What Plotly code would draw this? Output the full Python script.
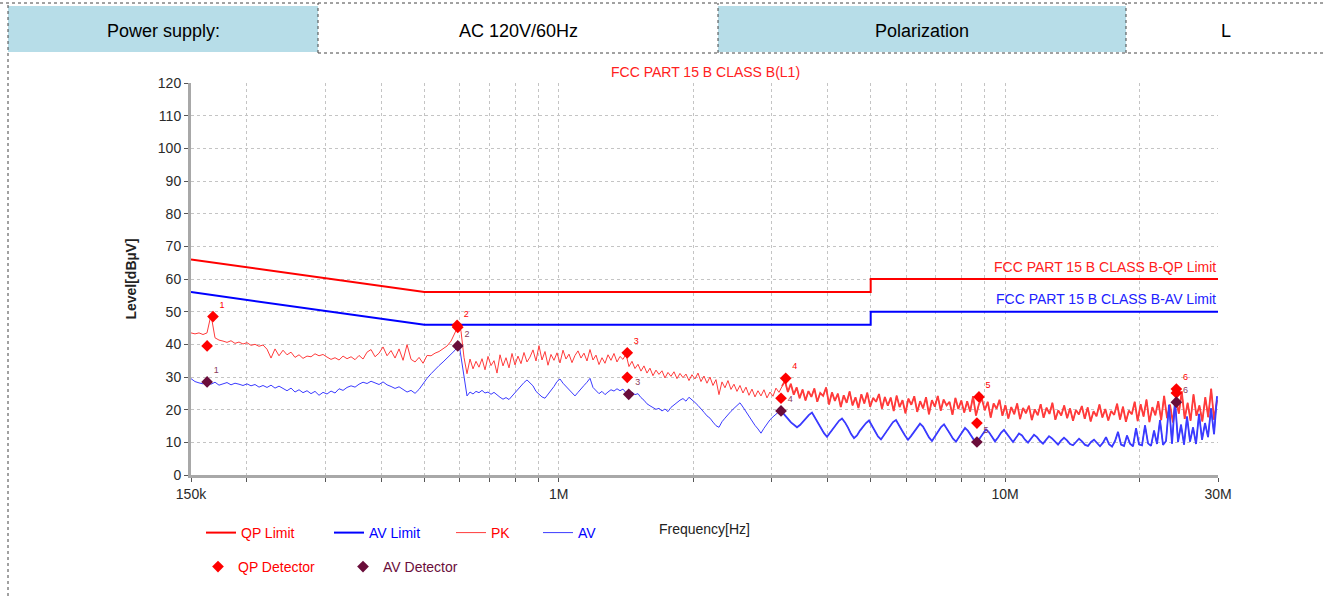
import numpy as np
import plotly.graph_objects as go

# ---------------- data ----------------
table_labels = ["Power supply:", "AC 120V/60Hz", "Polarization", "L"]
chart_title = "FCC PART 15 B CLASS B(L1)"

limit_freq_mhz = [0.15, 0.5, 5.0, 5.0, 30.0]
qp_limit_dbuv = [66, 56, 56, 60, 60]
av_limit_dbuv = [56, 46, 46, 50, 50]

# receiver sweep: three bands (start, stop in MHz), levels
band_a_mhz = [0.15, 0.598]
band_b_mhz = [0.604, 3.115]
band_c_mhz = [3.164, 29.85]

pk_band_a = [43.5, 43.2, 43.5, 43.0, 43.5, 49.0, 42.0, 41.3, 41.0, 40.6, 41.1, 40.3, 40.7, 40.1,
             40.5, 39.7, 40.0, 39.4, 39.8, 38.5, 35.8, 38.6, 36.5, 38.2, 36.8, 37.6, 36.0, 36.8,
             35.7, 36.4, 36.2, 37.1, 36.5, 36.9, 36.1, 35.4, 35.9, 35.2, 36.4, 35.6, 36.2, 35.3,
             36.6, 35.5, 37.6, 38.4, 36.2, 37.3, 39.2, 36.5, 38.1, 35.8, 38.6, 35.1, 39.9, 35.4,
             34.6, 36.0, 34.2, 36.6, 36.5, 37.3, 37.8, 38.6, 39.5, 41.0, 43.5, 46.2]
pk_band_b = [44.0, 36.0, 31.0, 35.5, 32.5, 34.8, 33.0, 35.6, 32.2, 36.3, 33.5, 35.0, 31.2, 36.8,
             33.4, 35.9, 32.8, 37.2, 33.7, 36.4, 34.1, 37.5, 34.6, 36.1, 38.3, 34.9, 39.6, 35.2,
             37.8, 33.6, 36.9, 35.1, 37.4, 34.3, 38.2, 35.5, 37.0, 34.4, 36.6, 38.0, 35.8, 37.3,
             34.9, 38.4, 35.2, 36.7, 33.8, 35.9, 34.2, 36.8, 35.1, 37.2, 34.6, 36.3, 35.4, 37.0,
             33.2, 34.8, 32.6, 33.9, 31.8, 33.4, 31.2, 32.7, 30.4, 32.1, 30.8, 31.9, 29.7, 31.4,
             30.2, 31.6, 29.5, 31.1, 29.8, 30.9, 28.9, 30.7, 29.4, 31.2, 28.6, 30.3, 28.1, 30.0,
             27.4, 29.2, 24.6, 28.5, 26.7, 28.9, 26.2, 27.8, 25.6, 27.4, 25.1, 26.9, 24.4, 26.3,
             23.9, 25.8, 24.2, 26.1, 23.6, 25.4, 24.1, 26.6, 25.3]
pk_band_c = [27.2, 28.8, 25.4, 27.9, 24.6, 26.8, 23.5, 26.2, 22.8, 25.7, 23.9, 26.5, 22.4, 25.1,
             24.2, 26.8, 21.6, 25.3, 22.7, 24.9, 20.8, 24.4, 22.1, 25.6, 21.3, 23.8, 20.5, 24.7,
             21.9, 25.2, 20.9, 23.6, 22.4, 24.8, 20.3, 23.9, 21.2, 23.7, 19.6, 24.3, 20.8, 22.9,
             18.9, 23.4, 21.5, 24.1, 19.3, 22.6, 20.4, 23.8, 18.6, 22.9, 20.9, 24.2, 19.7, 23.1,
             21.3, 22.4, 18.4, 23.6, 20.2, 22.8, 19.1, 22.6, 19.4, 24.1, 18.2, 21.7, 23.3, 19.8,
             22.4, 17.6, 21.9, 20.3, 23.0, 18.1, 21.4, 17.3, 20.8, 18.6, 21.9, 17.1, 20.5, 18.9,
             21.2, 16.8, 20.1, 18.3, 21.7, 17.5, 20.6, 18.7, 22.1, 16.9, 19.8, 18.2, 21.3, 17.4,
             20.4, 16.6, 19.9, 18.5, 21.1, 17.2, 20.7, 16.4, 19.5, 18.0, 21.6, 17.6, 20.2, 16.7,
             19.6, 18.4, 21.8, 17.0, 20.9, 16.3, 19.7, 18.6, 22.4, 16.5, 21.7, 17.9, 23.1, 16.2,
             20.8, 18.3, 22.6, 16.8, 24.2, 17.4, 21.5, 16.1, 23.4, 18.8, 25.6, 17.2, 22.1, 16.6,
             24.7, 18.1, 21.3, 16.4, 23.8, 17.7, 26.4, 16.9, 22.9]

av_band_a = [29.5, 28.6, 28.2, 27.9, 28.5, 27.8, 28.4, 27.5, 27.9, 28.3, 27.6, 28.1, 27.8, 27.4,
             27.9, 27.3, 27.7, 26.9, 27.4, 26.8, 27.5, 26.6, 27.2, 26.5, 25.8, 26.6, 25.4, 26.1,
             25.2, 25.8, 24.9, 25.6, 24.4, 25.3, 24.8, 25.7, 25.1, 26.4, 25.9, 26.8, 27.3, 26.9,
             27.8, 28.4, 28.0, 28.7, 28.2, 27.7, 28.5, 27.6, 27.1, 26.5, 27.0, 26.2, 25.4, 25.9,
             25.0, 26.2, 28.1, 29.6, 31.0, 32.4, 33.5, 34.6, 35.8, 36.9, 38.2, 40.1]
av_band_b = [36.0, 29.0, 24.2, 25.4, 24.8, 25.6, 25.2, 25.9, 25.1, 25.4, 24.7, 25.3, 24.4, 23.8,
             23.2, 23.7, 23.1, 24.2, 25.3, 26.4, 27.5, 28.3, 29.1, 28.2, 27.3, 25.6, 24.8, 23.9,
             23.5, 24.6, 25.8, 27.1, 28.6, 29.4, 28.1, 27.2, 26.3, 25.1, 24.2, 25.3, 26.2, 27.4,
             28.4, 29.6, 26.8, 25.7, 24.9, 25.6, 24.6, 25.4, 26.1, 25.7, 26.4, 25.8, 26.3, 25.2,
             24.8, 25.4, 24.6, 24.9, 23.7, 22.9, 21.8, 21.2, 20.6, 20.1, 20.4, 19.6, 20.2, 19.4,
             20.7, 21.5, 22.4, 22.9, 23.4, 22.6, 23.8, 23.1, 22.2, 21.3, 20.1, 19.2, 18.1, 17.4,
             16.2, 15.1, 14.6, 16.3, 17.4, 18.6, 19.5, 20.4, 21.3, 22.1, 20.8, 19.3, 17.9, 16.6,
             15.2, 14.1, 12.8, 14.3, 15.6, 16.9, 17.8, 18.7, 19.4]
av_band_c = [19.3, 18.4, 17.2, 16.1, 15.2, 14.6, 15.3, 16.4, 17.5, 18.4, 19.1, 17.6, 15.9, 14.2,
             12.8, 11.7, 12.9, 14.1, 15.4, 16.6, 17.3, 16.1, 14.5, 12.6, 11.3, 12.1, 13.6, 14.8,
             15.9, 16.7, 15.2, 13.4, 11.8, 10.9, 12.3, 13.7, 15.1, 16.2, 16.8, 15.4, 13.6, 12.1,
             10.8, 11.9, 13.2, 14.6, 15.7, 14.8, 13.1, 11.5, 10.4, 11.8, 13.3, 14.7, 15.5, 14.2,
             12.6, 11.1, 10.2, 11.6, 13.1, 14.4, 13.5, 12.1, 10.7, 10.0, 11.3, 12.8, 14.0, 13.1,
             11.6, 10.3, 11.5, 12.9, 13.8, 12.6, 11.2, 10.1, 11.4, 12.7, 12.1, 10.8, 9.9, 11.1,
             12.3, 11.6, 10.4, 9.6, 10.8, 11.9, 11.2, 10.1, 9.3, 10.5, 11.4, 10.6, 9.5, 9.1,
             10.2, 11.1, 10.3, 9.2, 8.9, 10.1, 10.8, 9.7, 8.8, 9.9, 11.6, 9.4, 8.7, 10.4,
             13.2, 9.3, 8.9, 12.1, 9.6, 8.8, 14.3, 9.4, 9.1, 15.2, 9.7, 8.9, 13.6, 9.5,
             16.8, 9.2, 10.4, 21.5, 9.6, 22.8, 10.1, 15.4, 9.3, 17.9, 10.2, 14.6, 9.5, 18.7,
             10.8, 15.9, 11.6, 20.4, 12.5, 24.1]

# detector readings (MHz, dBuV, label)
qp_det_mhz = [0.168, 0.163, 0.592, 0.594, 1.424, 1.424, 3.225, 3.148, 8.74, 8.65, 24.2, 24.2]
qp_det_dbuv = [48.5, 39.5, 45.8, 45.2, 37.4, 29.9, 29.6, 23.5, 23.9, 15.9, 26.3, 25.1]
qp_det_label = ["1", "", "2", "", "3", "", "4", "", "5", "", "6", ""]
av_det_mhz = [0.163, 0.594, 1.435, 3.148, 8.65, 24.2]
av_det_dbuv = [28.5, 39.5, 24.7, 19.6, 10.1, 22.3]
av_det_label = ["1", "2", "3", "4", "5", "6"]

x_tick_hz = [1.5e5, 2e5, 3e5, 4e5, 5e5, 6e5, 7e5, 8e5, 9e5, 1e6, 2e6, 3e6, 4e6, 5e6,
             6e6, 7e6, 8e6, 9e6, 1e7, 2e7, 3e7]
x_tick_text = ["150k", "", "", "", "", "", "", "", "", "1M", "", "", "", "", "", "", "", "",
               "10M", "", "30M"]

# ---------------- build ----------------
def sweep(band, levels):
    f = np.geomspace(band[0], band[1], len(levels)) * 1e6
    return list(f), list(levels)

pk_parts = [sweep(b, lv) for b, lv in [(band_a_mhz, pk_band_a), (band_b_mhz, pk_band_b),
                                       (band_c_mhz, pk_band_c)]]
av_parts = [sweep(b, lv) for b, lv in [(band_a_mhz, av_band_a), (band_b_mhz, av_band_b),
                                       (band_c_mhz, av_band_c)]]
pk_f = sum([p[0] for p in pk_parts], [])
pk_v = sum([p[1] for p in pk_parts], [])
av_f = sum([p[0] for p in av_parts], [])
av_v = sum([p[1] for p in av_parts], [])

W, H = 1325, 596
PL, PR, PT, PB = 191, 1218, 83, 475


def px(x):
    return (x - PL) / (PR - PL)


def py(y):
    return (PB - y) / (PB - PT)


FONT = "Arial, Liberation Sans, sans-serif"
RED = "#ff0000"
BLUE = "#0000ff"
PKC = "#ff3b3b"
AVC = "#3b3bff"
AVDET = "#6a0d3a"

fig = go.Figure()
limit_hz = [f * 1e6 for f in limit_freq_mhz]
fig.add_trace(go.Scatter(x=limit_hz, y=qp_limit_dbuv, mode="lines", name="QP Limit",
                         line=dict(color=RED, width=2), legend="legend"))
fig.add_trace(go.Scatter(x=limit_hz, y=av_limit_dbuv, mode="lines", name="AV Limit",
                         line=dict(color=BLUE, width=2), legend="legend2"))
fig.add_trace(go.Scatter(x=pk_f, y=pk_v, mode="lines", name="PK",
                         line=dict(color=PKC, width=1), legend="legend3", legendgroup="pk"))
fig.add_trace(go.Scatter(x=pk_parts[2][0], y=pk_parts[2][1], mode="lines", name="PK",
                         line=dict(color=PKC, width=1.8), showlegend=False, legendgroup="pk",
                         legend="legend3"))
fig.add_trace(go.Scatter(x=av_f, y=av_v, mode="lines", name="AV",
                         line=dict(color=AVC, width=1), legend="legend4", legendgroup="av"))
fig.add_trace(go.Scatter(x=av_parts[2][0], y=av_parts[2][1], mode="lines", name="AV",
                         line=dict(color=AVC, width=1.8), showlegend=False, legendgroup="av",
                         legend="legend4"))
fig.add_trace(go.Scatter(x=[f * 1e6 for f in qp_det_mhz], y=qp_det_dbuv, mode="markers+text",
                         name="QP Detector", text=qp_det_label, textposition="top right",
                         textfont=dict(family=FONT, size=9, color=RED),
                         marker=dict(symbol="diamond", size=9, color=RED), legend="legend5"))
fig.add_trace(go.Scatter(x=[f * 1e6 for f in av_det_mhz], y=av_det_dbuv, mode="markers+text",
                         name="AV Detector", text=av_det_label, textposition="top right",
                         textfont=dict(family=FONT, size=9, color="#8a3a5a"),
                         marker=dict(symbol="diamond", size=9, color=AVDET), legend="legend6"))

axis_common = dict(showgrid=True, gridcolor="#c4c4c4", griddash="dot", gridwidth=1,
                   zeroline=False, showline=True, linecolor="#a8a8a8", linewidth=3,
                   ticks="outside", ticklen=4, tickcolor="#555555", tickwidth=1,
                   tickfont=dict(family=FONT, size=14, color="#2a2a2a"))

fig.update_xaxes(type="log", range=[np.log10(1.5e5), np.log10(3e7)], tickmode="array",
                 tickvals=x_tick_hz, ticktext=x_tick_text,
                 title=dict(text="Frequency[Hz]", standoff=24,
                            font=dict(family=FONT, size=14, color="#222222")),
                 **axis_common)
fig.update_yaxes(range=[0, 120], tick0=0, dtick=10,
                 title=dict(text="<b>Level[dBµV]</b>", standoff=18,
                            font=dict(family=FONT, size=14, color="#222222")),
                 **axis_common)

# table header row
shapes = []
cells = [(8, 318, "#b7dde8"), (318, 718, "#ffffff"), (718, 1126, "#b7dde8"), (1126, 1325, "#ffffff")]
for x0, x1, col in cells:
    shapes.append(dict(type="rect", xref="paper", yref="paper", x0=px(x0), x1=px(x1),
                       y0=py(52), y1=py(6), fillcolor=col, line=dict(width=0), layer="below"))
dot = dict(color="#444444", width=1, dash="dot")
shapes.append(dict(type="line", xref="paper", yref="paper", x0=px(0), x1=px(1325),
                   y0=py(3), y1=py(3), line=dot))
shapes.append(dict(type="line", xref="paper", yref="paper", x0=px(318), x1=px(1325),
                   y0=py(53), y1=py(53), line=dot))
for xv in [318, 718, 1126]:
    shapes.append(dict(type="line", xref="paper", yref="paper", x0=px(xv), x1=px(xv),
                       y0=py(53), y1=py(3), line=dot))
shapes.append(dict(type="line", xref="paper", yref="paper", x0=px(8), x1=px(8),
                   y0=py(596), y1=py(3), line=dot))

annotations = []
for (x0, x1, _), lab in zip(cells, table_labels):
    annotations.append(dict(text=lab, xref="paper", yref="paper", x=px((x0 + x1) / 2), y=py(31),
                            xanchor="center", yanchor="middle", showarrow=False,
                            font=dict(family=FONT, size=18, color="#000000")))
annotations.append(dict(text=chart_title, xref="paper", yref="paper", x=px(705), y=py(72),
                        xanchor="center", yanchor="middle", showarrow=False,
                        font=dict(family=FONT, size=14, color="#ff2020")))
annotations.append(dict(text="FCC PART 15 B CLASS B-QP Limit", xref="paper", yref="paper",
                        x=1.0, y=py(267), xanchor="right", yanchor="middle", showarrow=False,
                        font=dict(family=FONT, size=14, color="#ff2020")))
annotations.append(dict(text="FCC PART 15 B CLASS B-AV Limit", xref="paper", yref="paper",
                        x=1.0, y=py(299), xanchor="right", yanchor="middle", showarrow=False,
                        font=dict(family=FONT, size=14, color="#2020ff")))


def leg(xpix, ypix, color):
    return dict(x=px(xpix), y=py(ypix), xanchor="left", yanchor="middle",
                bgcolor="rgba(0,0,0,0)", borderwidth=0,
                font=dict(family=FONT, size=14, color=color))


fig.update_layout(
    width=W, height=H,
    margin=dict(l=PL, r=W - PR, t=PT, b=H - PB, pad=0),
    paper_bgcolor="#ffffff", plot_bgcolor="#ffffff",
    showlegend=True,
    legend=leg(201, 533, RED),
    legend2=leg(329, 533, BLUE),
    legend3=leg(451, 533, RED),
    legend4=leg(538, 533, BLUE),
    legend5=leg(198, 567, RED),
    legend6=leg(343, 567, AVDET),
    shapes=shapes,
    annotations=annotations,
)

fig.write_html("out.html", config={"displayModeBar": False},
               post_script="document.body.style.margin='0px';document.body.style.overflow='hidden';")
